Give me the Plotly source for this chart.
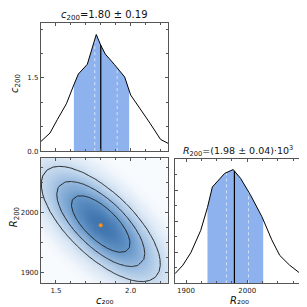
import numpy as np
import plotly.graph_objects as go

# ---- 1D marginal of c200 ----
c_grid = [1.40, 1.46, 1.51, 1.57, 1.62, 1.65, 1.71, 1.77, 1.80, 1.83, 1.89, 1.96, 2.00, 2.07, 2.13, 2.20, 2.25]
c_dens = [0.20, 0.37, 0.65, 0.97, 1.36, 1.58, 1.78, 2.39, 2.17, 1.99, 1.78, 1.52, 1.15, 0.85, 0.57, 0.24, 0.16]
c_med, c_lo, c_hi = 1.80, 1.62, 1.99
c_dash = [1.76, 1.91]

# ---- 1D marginal of R200 (relative density) ----
r_grid = [1882, 1895, 1908, 1924, 1935, 1943, 1963, 1977, 1989, 2005, 2024, 2040, 2053, 2069, 2089]
r_dens = [0.078, 0.147, 0.248, 0.426, 0.61, 0.775, 0.884, 0.915, 0.845, 0.713, 0.535, 0.35, 0.225, 0.147, 0.07]
r_med, r_lo, r_hi = 1979, 1935, 2026
r_dash = [1966, 2002]

# ---- 2D posterior parameters ----
c_mean, c_sig = 1.80, 0.195
r_mean, r_sig = 1981.0, 47.0
rho = -0.70
contour_levels = [0.125, 0.32, 0.6]

c_range = [1.40, 2.25]
r_range = [1882, 2091]
c_top_range = [0, 2.63]

fig = go.Figure()

fill_col = "rgba(130,170,235,0.9)"
dash_col = "rgba(225,235,252,0.85)"


def add_marginal(xs, ys, lo, hi, med, dashes, xa, ya):
    xs = np.array(xs, float)
    ys = np.array(ys, float)
    inner = xs[(xs > lo) & (xs < hi)]
    fx = np.concatenate([[lo], inner, [hi]])
    fy = np.interp(fx, xs, ys)
    fig.add_trace(go.Scatter(x=np.concatenate([[lo], fx, [hi]]), y=np.concatenate([[0], fy, [0]]),
                             fill="toself", fillcolor=fill_col, line=dict(width=0),
                             mode="lines", xaxis=xa, yaxis=ya, hoverinfo="skip", showlegend=False))
    for d in dashes:
        fig.add_trace(go.Scatter(x=[d, d], y=[0, np.interp(d, xs, ys)], mode="lines",
                                 line=dict(color=dash_col, width=1, dash="dot"),
                                 xaxis=xa, yaxis=ya, showlegend=False))
    fig.add_trace(go.Scatter(x=[med, med], y=[0, np.interp(med, xs, ys)], mode="lines",
                             line=dict(color="black", width=1.2), xaxis=xa, yaxis=ya, showlegend=False))
    fig.add_trace(go.Scatter(x=xs, y=ys, mode="lines", line=dict(color="black", width=1),
                             xaxis=xa, yaxis=ya, showlegend=False))


add_marginal(c_grid, c_dens, c_lo, c_hi, c_med, c_dash, "x", "y")
add_marginal(r_grid, r_dens, r_lo, r_hi, r_med, r_dash, "x3", "y3")


def density(cx, ry):
    CX, RY = np.meshgrid(cx, ry)
    u = (CX - c_mean) / c_sig
    v = (RY - r_mean) / r_sig
    return np.exp(-(u**2 - 2 * rho * u * v + v**2) / (2 * (1 - rho**2)))


# 2D density
cx = np.linspace(c_range[0], c_range[1], 120)
ry = np.linspace(r_range[0], r_range[1], 120)
Z = density(cx, ry)

fig.add_trace(go.Heatmap(x=cx, y=ry, z=Z, zsmooth="best", showscale=False, zmin=0, zmax=1,
                         colorscale=[[0, "#f8fbfe"], [0.02, "#e8f0f9"], [0.12, "#c6daee"],
                                     [0.32, "#98badf"], [0.6, "#6898c9"], [1, "#3f74ae"]],
                         xaxis="x2", yaxis="y2", hoverinfo="skip"))
cx2 = np.linspace(c_range[0], c_range[1], 22)
ry2 = np.linspace(r_range[0], r_range[1], 22)
Z2 = density(cx2, ry2)
for lev in contour_levels:
    fig.add_trace(go.Contour(x=cx2, y=ry2, z=Z2, showscale=False,
                             contours=dict(start=lev, end=lev, size=1, coloring="none"),
                             line=dict(color="#222222", width=1, smoothing=0), xaxis="x2", yaxis="y2",
                             hoverinfo="skip"))
fig.add_trace(go.Scatter(x=[c_med], y=[r_med], mode="markers",
                         marker=dict(color="#ff8c1a", size=4), xaxis="x2", yaxis="y2", showlegend=False))

W = H = 307
def dx(a, b):
    return [a / W, b / W]
def dy(top, bot):
    return [1 - bot / H, 1 - top / H]

axis_common = dict(showline=True, linecolor="#555", linewidth=1.2, mirror="ticks", ticks="inside",
                   ticklen=3, tickcolor="#555", showgrid=False, zeroline=False,
                   tickfont=dict(family="DejaVu Sans", size=7, color="#222"))
def mn(d):
    return dict(ticks="inside", ticklen=2, dtick=d, tickcolor="#555")

fig.update_layout(
    width=W, height=H, margin=dict(l=0, r=0, t=0, b=0),
    paper_bgcolor="white", plot_bgcolor="white", showlegend=False,
    xaxis=dict(domain=dx(33, 160), range=c_range, anchor="y", showticklabels=False,
               tickvals=[1.5, 2.0], minor=mn(0.1), **axis_common),
    yaxis=dict(domain=dy(15, 145), range=c_top_range, anchor="x", tickvals=[0, 1.5],
               ticktext=["0.0", "1.5"], minor=mn(0.5), **axis_common),
    xaxis2=dict(domain=dx(33, 160), range=c_range, anchor="y2", tickvals=[1.5, 2.0],
                ticktext=["1.5", "2.0"], minor=mn(0.1), **axis_common),
    yaxis2=dict(domain=dy(152, 279), range=r_range, anchor="x2", tickvals=[1900, 2000],
                minor=mn(25), **axis_common),
    xaxis3=dict(domain=dx(167, 295), range=r_range, anchor="y3", tickvals=[1900, 2000],
                minor=mn(25), **axis_common),
    yaxis3=dict(domain=dy(153, 279), range=[0, 1.0], anchor="x3", showticklabels=False,
                tickvals=[0.25, 0.5, 0.75], minor=mn(0.125), **axis_common),
)

ann = [
    dict(text="<i>c</i><sub>200</sub>=1.80 ± 0.19", x=97 / W, y=1 - 8 / H, size=10),
    dict(text="<i>R</i><sub>200</sub>=(1.98 ± 0.04)·10<sup>3</sup>", x=230 / W, y=1 - 145 / H, size=9.5),
    dict(text="<i>R</i><sub>200</sub>", x=6 / W, y=1 - 212 / H, textangle=-90, size=10),
    dict(text="<i>c</i><sub>200</sub>", x=8 / W, y=1 - 77 / H, textangle=-90, size=10),
    dict(text="<i>c</i>₂₀₀", x=97 / W, y=1 - 296 / H, size=10),
    dict(text="<i>R</i>₂₀₀", x=231 / W, y=1 - 296 / H, size=10),
]
for a in ann:
    s = a.pop("size")
    fig.add_annotation(xref="paper", yref="paper", showarrow=False,
                       font=dict(family="DejaVu Sans", size=s, color="#111"),
                       xanchor="center", yanchor="middle", **a)

fig.write_html("out.html")
